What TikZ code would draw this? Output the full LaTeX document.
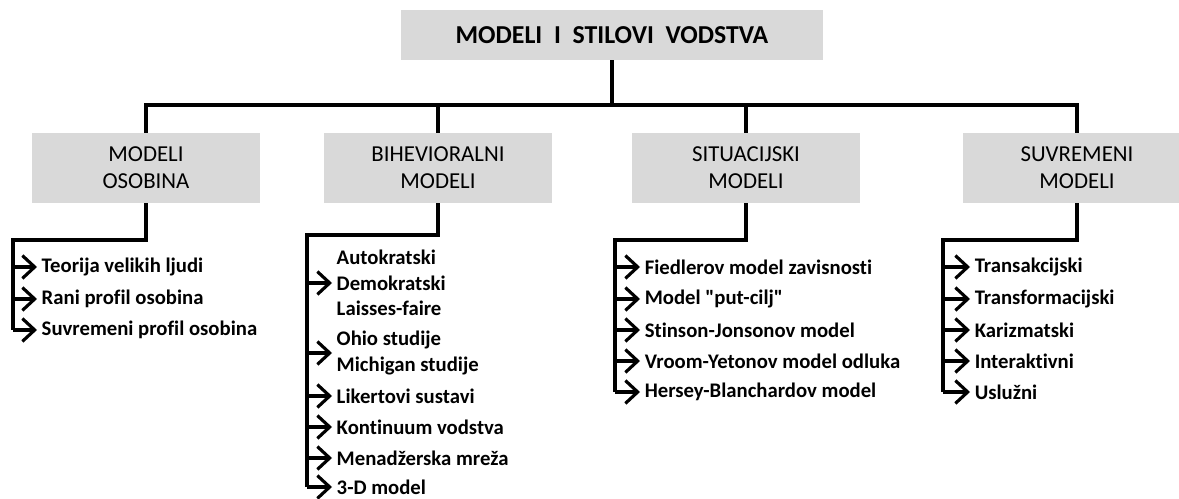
\documentclass[tikz,border=0pt]{standalone}
\usepackage{fontspec}
\setmainfont{Carlito}[Ligatures={NoCommon}]
\usetikzlibrary{arrows.meta,positioning}
\definecolor{boxgray}{HTML}{D9D9D9}

\begin{document}
\begin{tikzpicture}[x=0.02cm,y=-0.02cm,>={Straight Barb[length=7pt,width=13pt]},
    line/.style={line width=1.8pt},
    mainbox/.style={fill=boxgray,minimum width=8.46cm,minimum height=1cm,font=\bfseries\fontsize{14.7}{17}\selectfont},
    groupbox/.style={fill=boxgray,minimum width=4.56cm,minimum height=1.4cm,align=center,font=\fontsize{13}{15.3}\selectfont},
    item/.style={anchor=west,inner xsep=2.5pt,inner ysep=0pt,align=left,font=\bfseries\fontsize{11.8}{14.5}\selectfont}]

    \clip (0,0) rectangle (1179,499);

    \node[mainbox] (top) at (612,35) {MODELI~~I~~STILOVI~~VODSTVA};
    \node[groupbox] (m1) at (146,168) {MODELI\\OSOBINA};
    \node[groupbox] (m2) at (438,168) {BIHEVIORALNI\\MODELI};
    \node[groupbox] (m3) at (746,168) {SITUACIJSKI\\MODELI};
    \node[groupbox] (m4) at (1077,168) {SUVREMENI\\MODELI};

    \coordinate (bus) at (0,105);
    \draw[line] (top.south) -- (top.south |- bus);
    \draw[line] (m1.north) |- (m1.north |- bus) -| (m4.north);
    \draw[line] (m2.north) -- (m2.north |- bus);
    \draw[line] (m3.north) -- (m3.north |- bus);

    \node[item] (a1) at (37,267) {Teorija velikih ljudi};
    \node[item] (a2) at (37,299) {Rani profil osobina};
    \node[item] (a3) at (37,330) {Suvremeni profil osobina};

    \node[item] (b1) at (332,283) {Autokratski\\Demokratski\\Laisses-faire};
    \node[item] (b2) at (332,353) {Ohio studije\\Michigan studije};
    \node[item] (b3) at (332,396) {Likertovi sustavi};
    \node[item] (b4) at (332,427) {Kontinuum vodstva};
    \node[item] (b5) at (332,458) {Menadžerska mreža};
    \node[item] (b6) at (332,487) {3-D model};

    \node[item] (c1) at (640,267) {Fiedlerov model zavisnosti};
    \node[item] (c2) at (640,299) {Model \textquotedbl put-cilj\textquotedbl};
    \node[item] (c3) at (640,330) {Stinson-Jonsonov model};
    \node[item] (c4) at (640,361) {Vroom-Yetonov model odluka};
    \node[item] (c5) at (640,392) {Hersey-Blanchardov model};

    \node[item] (d1) at (970,267) {Transakcijski};
    \node[item] (d2) at (970,299) {Transformacijski};
    \node[item] (d3) at (970,330) {Karizmatski};
    \node[item] (d4) at (970,361) {Interaktivni};
    \node[item] (d5) at (970,392) {Uslužni};

    \coordinate (s1) at (13,240);
    \coordinate (s2) at (307,235);
    \coordinate (s3) at (615,240);
    \coordinate (s4) at (943,240);

    \draw[line] (m1.south) |- (s1) -- (s1 |- a3.west);
    \draw[line] (m2.south) |- (s2) -- (s2 |- b6.west);
    \draw[line] (m3.south) |- (s3) -- (s3 |- c5.west);
    \draw[line] (m4.south) |- (s4) -- (s4 |- d5.west);

    \foreach \n in {a1,a2,a3} \draw[line,->] (s1 |- \n.west) -- (\n.west);
    \foreach \n in {b1,b2,b3,b4,b5,b6} \draw[line,->] (s2 |- \n.west) -- (\n.west);
    \foreach \n in {c1,c2,c3,c4,c5} \draw[line,->] (s3 |- \n.west) -- (\n.west);
    \foreach \n in {d1,d2,d3,d4,d5} \draw[line,->] (s4 |- \n.west) -- (\n.west);

\end{tikzpicture}
\end{document}
